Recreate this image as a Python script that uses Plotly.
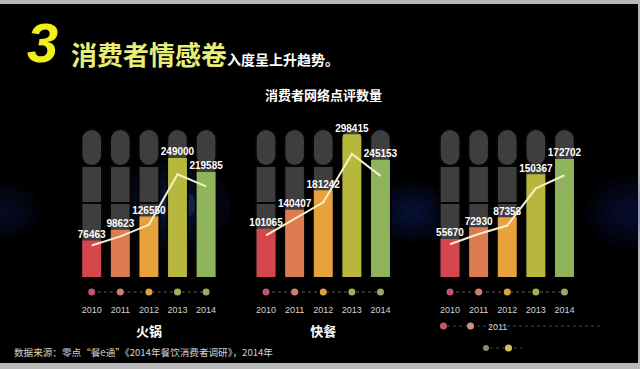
import plotly.graph_objects as go

# ---------------- data ----------------
years = ["2010", "2011", "2012", "2013", "2014"]
hotpot = [76463, 98623, 126550, 249000, 219585]
fastfood = [101065, 140407, 181242, 298415, 245153]
third_group = [55670, 72930, 87358, 150367, 172702]
group_names = ["火锅", "快餐", ""]
series = [hotpot, fastfood, third_group]

title_big = "消费者情感卷"
title_small = "入度呈上升趋势。"
subtitle = "消费者网络点评数量"
source = "数据来源：零点“餐e通”《2014年餐饮消费者调研》，2014年"

bar_colors = ["#d5464d", "#dc7a50", "#e7a23c", "#b6b73c", "#8fb45c"]
dot_colors = ["#c2566a", "#cf7d6c", "#dca040", "#a8ae55", "#93ad62"]

# ---------------- layout helpers ----------------
W, H = 640, 369


def px(x):
    return x / W


def py(y):
    return 1 - y / H


x_domains = [(77.4, 220.4), (251.7, 394.8), (435.7, 578.8)]
bar_dom = [py(277), py(100)]
tl_dom = [py(298), py(286)]
y_max = [370000, 370000, 259000]
gray_frac = 148 / 177
line_factor = 1.16

fig = go.Figure()
layout_axes = {}

for i in range(3):
    n = "" if i == 0 else str(i + 1)
    xa = "x" + n
    yb = "y" + n
    yl = "y" + str(i + 4)
    yt = "y" + str(i + 7)
    vals = series[i]
    G = y_max[i] * gray_frac

    # gray background capsules (three segments)
    for lo, hi in [(0, 0.5), (0.5, 0.75), (0.75, 1.0)]:
        fig.add_trace(go.Bar(
            x=years, y=[G * (hi - lo)] * 5, base=[G * lo] * 5,
            width=0.72,
            marker=dict(color="#3e3e3e", line=dict(color="#050505", width=2),
                        cornerradius="50%" if hi == 1.0 else 0),
            xaxis=xa, yaxis=yb, hoverinfo="skip", showlegend=False))

    # coloured value bars
    fig.add_trace(go.Bar(
        x=years, y=vals, width=0.66,
        marker=dict(color=bar_colors, line=dict(width=0), cornerradius="50%"),
        xaxis=xa, yaxis=yb, hoverinfo="skip", showlegend=False))

    # trend line
    fig.add_trace(go.Scatter(
        x=years, y=vals, mode="lines",
        line=dict(color="#f4f0cc", width=2),
        xaxis=xa, yaxis=yl, hoverinfo="skip", showlegend=False))

    # value labels
    fig.add_trace(go.Scatter(
        x=years, y=vals, mode="text", text=[str(v) for v in vals],
        textposition="top center",
        textfont=dict(color="#ffffff", size=10, family="Liberation Sans", weight="bold"),
        cliponaxis=False,
        xaxis=xa, yaxis=yb, hoverinfo="skip", showlegend=False))

    # timeline dots
    fig.add_trace(go.Scatter(
        x=years, y=[0] * 5, mode="lines+markers",
        line=dict(color="#5c5c5c", width=1, dash="dot"),
        marker=dict(color=dot_colors, size=7),
        cliponaxis=False,
        xaxis=xa, yaxis=yt, hoverinfo="skip", showlegend=False))

    xk = "xaxis" + n
    layout_axes[xk] = dict(
        domain=[px(x_domains[i][0]), px(x_domains[i][1])],
        anchor=yt, type="category", range=[-0.5, 4.5],
        showgrid=False, zeroline=False, showline=False, ticks="",
        ticklabelstandoff=5,
        tickfont=dict(size=9, color="#d4d4d4", family="Liberation Sans"),
        title=dict(text=group_names[i], standoff=12,
                   font=dict(size=13, color="#ffffff", family="Noto Sans CJK SC", weight="bold")),
        fixedrange=True)
    layout_axes["yaxis" + n] = dict(domain=bar_dom, anchor=xa, range=[0, y_max[i]],
                                    visible=False, fixedrange=True)
    layout_axes["yaxis" + str(i + 4)] = dict(overlaying=yb, anchor=xa,
                                             range=[0, y_max[i] * line_factor],
                                             visible=False, fixedrange=True)
    layout_axes["yaxis" + str(i + 7)] = dict(domain=tl_dom, anchor=xa, range=[-1, 1],
                                             visible=False, fixedrange=True)


def glow(cx, cy, r, rgb, alpha, steps=4):
    out = []
    for k in range(steps):
        rr = r * (1 - k / steps)
        out.append(dict(type="circle", xref="paper", yref="paper",
                        x0=px(cx - rr), x1=px(cx + rr), y0=py(cy + rr * 0.8), y1=py(cy - rr * 0.8),
                        fillcolor="rgba(%d,%d,%d,%.3f)" % (rgb + (alpha,)),
                        line=dict(width=0), layer="below"))
    return out


shapes = [
    # black slide area
    dict(type="rect", xref="paper", yref="paper", x0=0, x1=px(638), y0=py(363), y1=py(4),
         fillcolor="#000000", line=dict(width=0), layer="below"),
]
shapes += glow(175, 205, 55, (40, 90, 220), 0.06, steps=5)
shapes += glow(178, 205, 18, (90, 150, 255), 0.14, steps=3)
shapes += glow(412, 212, 38, (30, 50, 170), 0.07, steps=5)
shapes += glow(630, 212, 45, (30, 50, 170), 0.06, steps=5)
shapes += glow(5, 210, 35, (30, 50, 160), 0.05, steps=5)
shapes += [
    # leftover timeline fragments under third group
    dict(type="line", xref="paper", yref="paper", x0=px(447), x1=px(600), y0=py(326), y1=py(326),
         line=dict(color="#4a4a4a", width=1, dash="dot"), layer="below"),
    dict(type="circle", xref="paper", yref="paper", x0=px(440), x1=px(447), y0=py(329.5), y1=py(322.5),
         fillcolor="#c05a6a", line=dict(width=0)),
    dict(type="circle", xref="paper", yref="paper", x0=px(467), x1=px(474), y0=py(329.5), y1=py(322.5),
         fillcolor="#d09080", line=dict(width=0)),
    dict(type="line", xref="paper", yref="paper", x0=px(484), x1=px(522), y0=py(348), y1=py(348),
         line=dict(color="#4a4a4a", width=1, dash="dot"), layer="below"),
    dict(type="circle", xref="paper", yref="paper", x0=px(483), x1=px(489), y0=py(351), y1=py(345),
         fillcolor="#8a8a70", line=dict(width=0)),
    dict(type="circle", xref="paper", yref="paper", x0=px(505), x1=px(512), y0=py(351.5), y1=py(344.5),
         fillcolor="#d2c25c", line=dict(width=0)),
]

annotations = [
    dict(text="3", x=px(25), y=py(43), xref="paper", yref="paper", xanchor="left", yanchor="middle",
         showarrow=False,
         font=dict(size=56, color="#f2ee1c", family="Liberation Sans", weight="bold", style="italic")),
    dict(text="<span style='color:#e6ee78;font-size:26px'>" + title_big + "</span>"
              "<span style='color:#ffffff;font-size:14px'>" + title_small + "</span>",
         x=px(69), y=py(53), xref="paper", yref="paper", xanchor="left", yanchor="middle",
         showarrow=False, font=dict(family="Noto Sans CJK SC", weight="bold", size=26)),
    dict(text=subtitle, x=px(323), y=py(95), xref="paper", yref="paper", xanchor="center",
         yanchor="middle", showarrow=False,
         font=dict(size=13, color="#ffffff", family="Noto Sans CJK SC", weight="bold")),
    dict(text=source, x=px(12), y=py(352), xref="paper", yref="paper", xanchor="left",
         yanchor="middle", showarrow=False,
         font=dict(size=9.6, color="#d0d0d0", family="Noto Sans CJK SC")),
    dict(text="2011", x=px(497), y=py(327), xref="paper", yref="paper", xanchor="center",
         yanchor="middle", showarrow=False,
         font=dict(size=9, color="#d4d4d4", family="Liberation Sans")),
]

fig.update_layout(
    width=W, height=H, autosize=False,
    margin=dict(l=0, r=0, t=0, b=0, pad=0),
    paper_bgcolor="#b8b8b8", plot_bgcolor="rgba(0,0,0,0)",
    barmode="overlay", showlegend=False,
    shapes=shapes, annotations=annotations,
    **layout_axes)

fig.write_html("out.html", config={"displayModeBar": False},
               post_script="document.body.style.margin='0';document.body.style.overflow='hidden';")
